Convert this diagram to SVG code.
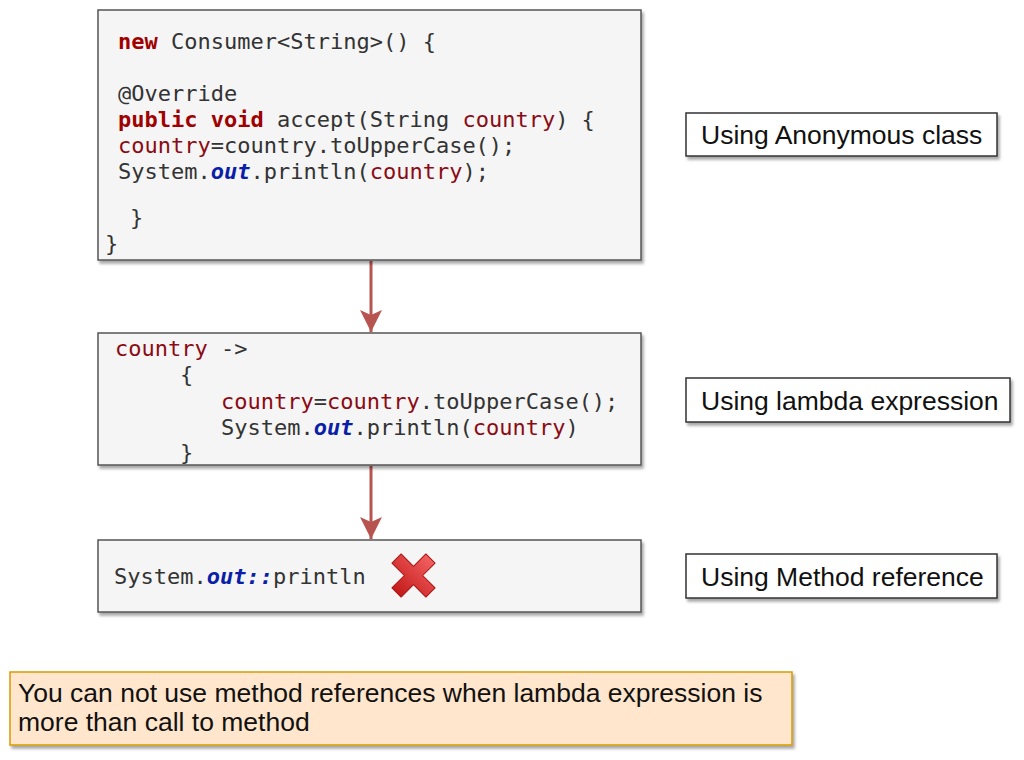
<svg xmlns="http://www.w3.org/2000/svg" width="1024" height="760" viewBox="0 0 1024 760">
<defs>
<filter id="sh" x="-5%" y="-5%" width="110%" height="120%">
<feGaussianBlur in="SourceAlpha" stdDeviation="1.5"/>
<feOffset dx="2" dy="3"/>
<feComponentTransfer><feFuncA type="linear" slope="0.35"/></feComponentTransfer>
<feMerge><feMergeNode/><feMergeNode in="SourceGraphic"/></feMerge>
</filter>
<marker id="ah" markerWidth="22" markerHeight="22" refX="22" refY="11" orient="auto" markerUnits="userSpaceOnUse" viewBox="0 0 22 22">
<path d="M0,0 L22,11 L0,22 L5,11 z" fill="#b85450"/>
</marker>
<linearGradient id="xg" x1="0" y1="0" x2="0" y2="1">
<stop offset="0" stop-color="#f26060"/>
<stop offset="1" stop-color="#c41a1a"/>
</linearGradient>
</defs>
<style>
.code{fill:#f5f5f5;stroke:#555;stroke-width:1.5}
.lbl{fill:#fff;stroke:#333;stroke-width:1.5}
.mono{font-family:"DejaVu Sans Mono",monospace;font-size:22px;fill:#333}
.kw{fill:#a00000;font-weight:bold}
.var{fill:#8b0a14}
.out{fill:#0a1ea8;font-weight:bold;font-style:italic}
.sans{font-family:"Liberation Sans",Arial,sans-serif;font-size:26.5px;fill:#111}
.conn{stroke:#b85450;stroke-width:3;fill:none}
</style>
<rect width="1024" height="760" fill="#fff"/>

<g id="connectors">
<line class="conn" x1="371" y1="261" x2="371" y2="332" marker-end="url(#ah)"/>
<line class="conn" x1="371" y1="466" x2="371" y2="539" marker-end="url(#ah)"/>
</g>

<g id="anon">
<rect class="code" x="98" y="10" width="543" height="250" filter="url(#sh)"/>
<text class="mono" x="118" y="49"><tspan class="kw">new</tspan> Consumer&lt;String&gt;() {</text>
<text class="mono" x="118" y="101">@Override</text>
<text class="mono" x="118" y="127"><tspan class="kw">public</tspan> <tspan class="kw">void</tspan> accept(String <tspan class="var">country</tspan>) {</text>
<text class="mono" x="118" y="153"><tspan class="var">country</tspan>=country.toUpperCase();</text>
<text class="mono" x="118" y="179">System.<tspan class="out">out</tspan>.println(<tspan class="var">country</tspan>);</text>
<text class="mono" x="130" y="225">}</text>
<text class="mono" x="105" y="251">}</text>
</g>

<g id="lambda">
<rect class="code" x="98" y="333" width="543" height="132" filter="url(#sh)"/>
<text class="mono" x="115" y="356"><tspan class="var">country</tspan> -&gt;</text>
<text class="mono" x="180" y="382">{</text>
<text class="mono" x="221" y="409"><tspan class="var">country</tspan>=<tspan class="var">country</tspan>.toUpperCase();</text>
<text class="mono" x="221" y="435">System.<tspan class="out">out</tspan>.println(<tspan class="var">country</tspan>)</text>
<text class="mono" x="180" y="460">}</text>
</g>

<g id="methodref">
<rect class="code" x="98" y="540" width="543" height="72" filter="url(#sh)"/>
<text class="mono" x="114" y="584">System.<tspan class="out">out::</tspan>println</text>
<g transform="translate(413.5,575.5) rotate(45)">
<path d="M-6.5,-24 L6.5,-24 L6.5,-6.5 L24,-6.5 L24,6.5 L6.5,6.5 L6.5,24 L-6.5,24 L-6.5,6.5 L-24,6.5 L-24,-6.5 L-6.5,-6.5 z" fill="url(#xg)" stroke="#a81212" stroke-width="1" stroke-linejoin="round"/>
</g>
</g>

<g id="lbl-anon">
<rect class="lbl" x="686" y="113" width="311" height="43" filter="url(#sh)"/>
<text class="sans" x="701" y="144">Using Anonymous class</text>
</g>
<g id="lbl-lambda">
<rect class="lbl" x="686" y="378" width="324" height="44" filter="url(#sh)"/>
<text class="sans" x="701" y="410">Using lambda expression</text>
</g>
<g id="lbl-method">
<rect class="lbl" x="686" y="554" width="311" height="44" filter="url(#sh)"/>
<text class="sans" x="701" y="586">Using Method reference</text>
</g>

<g id="note">
<rect x="10" y="672" width="782" height="73" fill="#ffe6cc" stroke="#d79b00" stroke-width="1.5" filter="url(#sh)"/>
<text class="sans" x="18" y="702">You can not use method references when lambda expression is</text>
<text class="sans" x="18" y="731">more than call to method</text>
</g>
</svg>
